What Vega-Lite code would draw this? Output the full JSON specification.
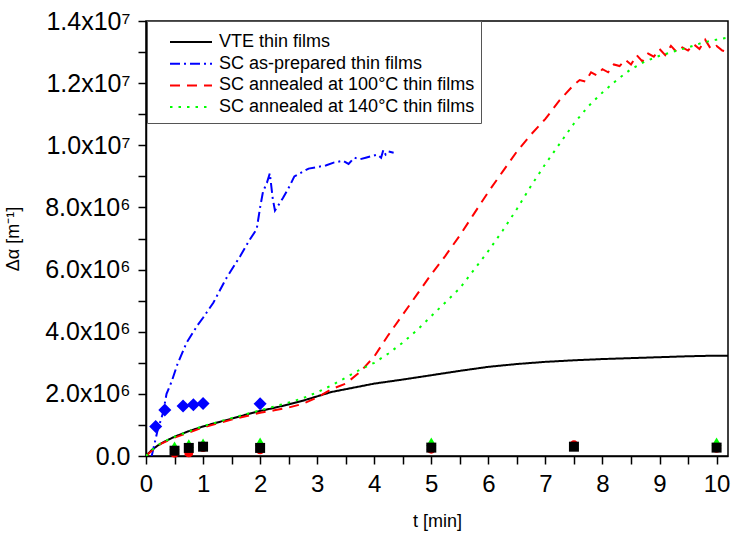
{
  "$schema": "https://vega.github.io/schema/vega-lite/v6.json",
  "width": 582,
  "height": 435,
  "autosize": {"type": "none"},
  "padding": {"left": 146, "top": 21, "right": 5, "bottom": 84},
  "background": "white",
  "config": {
    "font": "Liberation Sans",
    "view": {"stroke": "black", "strokeWidth": 1.5},
    "axis": {
      "grid": false, "domainColor": "black", "domainWidth": 1.5,
      "tickColor": "black", "tickWidth": 1.5, "tickSize": 8,
      "labelColor": "black", "labelFontSize": 24, "labelFont": "Liberation Sans",
      "titleColor": "black", "titleFontWeight": "normal", "titleFontSize": 18, "titleFont": "Liberation Sans",
      "labelFlush": false, "labelOverlap": false
    },
    "legend": {
      "orient": "none", "legendX": 1, "legendY": 0,
      "fillColor": "white", "strokeColor": "#555555",
      "padding": 6,
      "symbolType": "stroke", "symbolSize": 1764, "symbolStrokeWidth": 2,
      "symbolOffset": 16, "labelOffset": 6,
      "labelFontSize": 18, "labelColor": "black", "labelFont": "Liberation Sans", "labelLimit": 400,
      "clipHeight": 12, "rowPadding": 3.7,
      "titleFontSize": 4, "titlePadding": 5
    }
  },
  "datasets": {
    "curves": [
      {"t": 0, "v": 0, "series": "VTE thin films"},
      {"t": 0.05, "v": 100000, "series": "VTE thin films"},
      {"t": 0.1, "v": 190000, "series": "VTE thin films"},
      {"t": 0.2, "v": 330000, "series": "VTE thin films"},
      {"t": 0.3, "v": 440000, "series": "VTE thin films"},
      {"t": 0.5, "v": 620000, "series": "VTE thin films"},
      {"t": 0.75, "v": 800000, "series": "VTE thin films"},
      {"t": 1, "v": 950000, "series": "VTE thin films"},
      {"t": 1.25, "v": 1080000, "series": "VTE thin films"},
      {"t": 1.5, "v": 1200000, "series": "VTE thin films"},
      {"t": 1.75, "v": 1330000, "series": "VTE thin films"},
      {"t": 2, "v": 1450000, "series": "VTE thin films"},
      {"t": 2.25, "v": 1550000, "series": "VTE thin films"},
      {"t": 2.5, "v": 1660000, "series": "VTE thin films"},
      {"t": 2.75, "v": 1780000, "series": "VTE thin films"},
      {"t": 3, "v": 1920000, "series": "VTE thin films"},
      {"t": 3.25, "v": 2060000, "series": "VTE thin films"},
      {"t": 3.5, "v": 2150000, "series": "VTE thin films"},
      {"t": 3.75, "v": 2240000, "series": "VTE thin films"},
      {"t": 4, "v": 2330000, "series": "VTE thin films"},
      {"t": 4.5, "v": 2460000, "series": "VTE thin films"},
      {"t": 5, "v": 2600000, "series": "VTE thin films"},
      {"t": 5.5, "v": 2740000, "series": "VTE thin films"},
      {"t": 6, "v": 2870000, "series": "VTE thin films"},
      {"t": 6.5, "v": 2960000, "series": "VTE thin films"},
      {"t": 7, "v": 3030000, "series": "VTE thin films"},
      {"t": 7.5, "v": 3080000, "series": "VTE thin films"},
      {"t": 8, "v": 3120000, "series": "VTE thin films"},
      {"t": 8.5, "v": 3150000, "series": "VTE thin films"},
      {"t": 9, "v": 3180000, "series": "VTE thin films"},
      {"t": 9.5, "v": 3210000, "series": "VTE thin films"},
      {"t": 10, "v": 3230000, "series": "VTE thin films"},
      {"t": 10.2, "v": 3230000, "series": "VTE thin films"},

      {"t": 0.1, "v": 0, "series": "SC as-prepared thin films"},
      {"t": 0.15, "v": 400000, "series": "SC as-prepared thin films"},
      {"t": 0.2, "v": 800000, "series": "SC as-prepared thin films"},
      {"t": 0.3, "v": 1400000, "series": "SC as-prepared thin films"},
      {"t": 0.36, "v": 2000000, "series": "SC as-prepared thin films"},
      {"t": 0.45, "v": 2400000, "series": "SC as-prepared thin films"},
      {"t": 0.55, "v": 2950000, "series": "SC as-prepared thin films"},
      {"t": 0.71, "v": 3640000, "series": "SC as-prepared thin films"},
      {"t": 0.9, "v": 4200000, "series": "SC as-prepared thin films"},
      {"t": 1.0, "v": 4450000, "series": "SC as-prepared thin films"},
      {"t": 1.18, "v": 4930000, "series": "SC as-prepared thin films"},
      {"t": 1.4, "v": 5700000, "series": "SC as-prepared thin films"},
      {"t": 1.65, "v": 6430000, "series": "SC as-prepared thin films"},
      {"t": 1.75, "v": 6750000, "series": "SC as-prepared thin films"},
      {"t": 1.82, "v": 6970000, "series": "SC as-prepared thin films"},
      {"t": 1.94, "v": 7300000, "series": "SC as-prepared thin films"},
      {"t": 2.0, "v": 8000000, "series": "SC as-prepared thin films"},
      {"t": 2.05, "v": 8500000, "series": "SC as-prepared thin films"},
      {"t": 2.12, "v": 8800000, "series": "SC as-prepared thin films"},
      {"t": 2.17, "v": 9100000, "series": "SC as-prepared thin films"},
      {"t": 2.22, "v": 8300000, "series": "SC as-prepared thin films"},
      {"t": 2.26, "v": 7900000, "series": "SC as-prepared thin films"},
      {"t": 2.4, "v": 8300000, "series": "SC as-prepared thin films"},
      {"t": 2.52, "v": 8700000, "series": "SC as-prepared thin films"},
      {"t": 2.6, "v": 9000000, "series": "SC as-prepared thin films"},
      {"t": 2.7, "v": 9100000, "series": "SC as-prepared thin films"},
      {"t": 2.85, "v": 9250000, "series": "SC as-prepared thin films"},
      {"t": 3.0, "v": 9300000, "series": "SC as-prepared thin films"},
      {"t": 3.15, "v": 9350000, "series": "SC as-prepared thin films"},
      {"t": 3.3, "v": 9450000, "series": "SC as-prepared thin films"},
      {"t": 3.45, "v": 9500000, "series": "SC as-prepared thin films"},
      {"t": 3.55, "v": 9400000, "series": "SC as-prepared thin films"},
      {"t": 3.65, "v": 9600000, "series": "SC as-prepared thin films"},
      {"t": 3.75, "v": 9550000, "series": "SC as-prepared thin films"},
      {"t": 3.85, "v": 9600000, "series": "SC as-prepared thin films"},
      {"t": 3.95, "v": 9650000, "series": "SC as-prepared thin films"},
      {"t": 4.05, "v": 9700000, "series": "SC as-prepared thin films"},
      {"t": 4.12, "v": 9600000, "series": "SC as-prepared thin films"},
      {"t": 4.16, "v": 9850000, "series": "SC as-prepared thin films"},
      {"t": 4.2, "v": 9700000, "series": "SC as-prepared thin films"},
      {"t": 4.25, "v": 9800000, "series": "SC as-prepared thin films"},
      {"t": 4.34, "v": 9760000, "series": "SC as-prepared thin films"},

      {"t": 0, "v": 0, "series": "SC annealed at 100°C thin films"},
      {"t": 0.1, "v": 170000, "series": "SC annealed at 100°C thin films"},
      {"t": 0.25, "v": 380000, "series": "SC annealed at 100°C thin films"},
      {"t": 0.5, "v": 590000, "series": "SC annealed at 100°C thin films"},
      {"t": 1, "v": 920000, "series": "SC annealed at 100°C thin films"},
      {"t": 1.5, "v": 1170000, "series": "SC annealed at 100°C thin films"},
      {"t": 2, "v": 1390000, "series": "SC annealed at 100°C thin films"},
      {"t": 2.25, "v": 1470000, "series": "SC annealed at 100°C thin films"},
      {"t": 2.5, "v": 1560000, "series": "SC annealed at 100°C thin films"},
      {"t": 2.75, "v": 1680000, "series": "SC annealed at 100°C thin films"},
      {"t": 3, "v": 1880000, "series": "SC annealed at 100°C thin films"},
      {"t": 3.25, "v": 2150000, "series": "SC annealed at 100°C thin films"},
      {"t": 3.5, "v": 2330000, "series": "SC annealed at 100°C thin films"},
      {"t": 3.75, "v": 2700000, "series": "SC annealed at 100°C thin films"},
      {"t": 4, "v": 3200000, "series": "SC annealed at 100°C thin films"},
      {"t": 4.25, "v": 3900000, "series": "SC annealed at 100°C thin films"},
      {"t": 4.5, "v": 4550000, "series": "SC annealed at 100°C thin films"},
      {"t": 4.75, "v": 5200000, "series": "SC annealed at 100°C thin films"},
      {"t": 5, "v": 5850000, "series": "SC annealed at 100°C thin films"},
      {"t": 5.25, "v": 6450000, "series": "SC annealed at 100°C thin films"},
      {"t": 5.5, "v": 7100000, "series": "SC annealed at 100°C thin films"},
      {"t": 5.75, "v": 7800000, "series": "SC annealed at 100°C thin films"},
      {"t": 6, "v": 8500000, "series": "SC annealed at 100°C thin films"},
      {"t": 6.25, "v": 9150000, "series": "SC annealed at 100°C thin films"},
      {"t": 6.5, "v": 9800000, "series": "SC annealed at 100°C thin films"},
      {"t": 6.75, "v": 10350000, "series": "SC annealed at 100°C thin films"},
      {"t": 7, "v": 10850000, "series": "SC annealed at 100°C thin films"},
      {"t": 7.25, "v": 11450000, "series": "SC annealed at 100°C thin films"},
      {"t": 7.5, "v": 11950000, "series": "SC annealed at 100°C thin films"},
      {"t": 7.6, "v": 12100000, "series": "SC annealed at 100°C thin films"},
      {"t": 7.7, "v": 12050000, "series": "SC annealed at 100°C thin films"},
      {"t": 7.8, "v": 12350000, "series": "SC annealed at 100°C thin films"},
      {"t": 7.9, "v": 12250000, "series": "SC annealed at 100°C thin films"},
      {"t": 8.0, "v": 12450000, "series": "SC annealed at 100°C thin films"},
      {"t": 8.1, "v": 12350000, "series": "SC annealed at 100°C thin films"},
      {"t": 8.2, "v": 12600000, "series": "SC annealed at 100°C thin films"},
      {"t": 8.3, "v": 12550000, "series": "SC annealed at 100°C thin films"},
      {"t": 8.4, "v": 12750000, "series": "SC annealed at 100°C thin films"},
      {"t": 8.5, "v": 12600000, "series": "SC annealed at 100°C thin films"},
      {"t": 8.6, "v": 12900000, "series": "SC annealed at 100°C thin films"},
      {"t": 8.7, "v": 12700000, "series": "SC annealed at 100°C thin films"},
      {"t": 8.8, "v": 12950000, "series": "SC annealed at 100°C thin films"},
      {"t": 8.9, "v": 12850000, "series": "SC annealed at 100°C thin films"},
      {"t": 9.0, "v": 13100000, "series": "SC annealed at 100°C thin films"},
      {"t": 9.1, "v": 12900000, "series": "SC annealed at 100°C thin films"},
      {"t": 9.2, "v": 13200000, "series": "SC annealed at 100°C thin films"},
      {"t": 9.3, "v": 13000000, "series": "SC annealed at 100°C thin films"},
      {"t": 9.4, "v": 13150000, "series": "SC annealed at 100°C thin films"},
      {"t": 9.5, "v": 13050000, "series": "SC annealed at 100°C thin films"},
      {"t": 9.6, "v": 13250000, "series": "SC annealed at 100°C thin films"},
      {"t": 9.7, "v": 13100000, "series": "SC annealed at 100°C thin films"},
      {"t": 9.8, "v": 13400000, "series": "SC annealed at 100°C thin films"},
      {"t": 9.9, "v": 13100000, "series": "SC annealed at 100°C thin films"},
      {"t": 10.0, "v": 13200000, "series": "SC annealed at 100°C thin films"},
      {"t": 10.1, "v": 13050000, "series": "SC annealed at 100°C thin films"},
      {"t": 10.2, "v": 13000000, "series": "SC annealed at 100°C thin films"},

      {"t": 0, "v": 0, "series": "SC annealed at 140°C thin films"},
      {"t": 0.1, "v": 190000, "series": "SC annealed at 140°C thin films"},
      {"t": 0.25, "v": 400000, "series": "SC annealed at 140°C thin films"},
      {"t": 0.5, "v": 620000, "series": "SC annealed at 140°C thin films"},
      {"t": 1, "v": 960000, "series": "SC annealed at 140°C thin films"},
      {"t": 1.5, "v": 1220000, "series": "SC annealed at 140°C thin films"},
      {"t": 2, "v": 1470000, "series": "SC annealed at 140°C thin films"},
      {"t": 2.5, "v": 1720000, "series": "SC annealed at 140°C thin films"},
      {"t": 2.75, "v": 1860000, "series": "SC annealed at 140°C thin films"},
      {"t": 3, "v": 2050000, "series": "SC annealed at 140°C thin films"},
      {"t": 3.25, "v": 2270000, "series": "SC annealed at 140°C thin films"},
      {"t": 3.5, "v": 2520000, "series": "SC annealed at 140°C thin films"},
      {"t": 3.75, "v": 2780000, "series": "SC annealed at 140°C thin films"},
      {"t": 4, "v": 3000000, "series": "SC annealed at 140°C thin films"},
      {"t": 4.25, "v": 3300000, "series": "SC annealed at 140°C thin films"},
      {"t": 4.5, "v": 3650000, "series": "SC annealed at 140°C thin films"},
      {"t": 4.75, "v": 4050000, "series": "SC annealed at 140°C thin films"},
      {"t": 5, "v": 4500000, "series": "SC annealed at 140°C thin films"},
      {"t": 5.25, "v": 4950000, "series": "SC annealed at 140°C thin films"},
      {"t": 5.5, "v": 5400000, "series": "SC annealed at 140°C thin films"},
      {"t": 5.75, "v": 6000000, "series": "SC annealed at 140°C thin films"},
      {"t": 6, "v": 6600000, "series": "SC annealed at 140°C thin films"},
      {"t": 6.25, "v": 7250000, "series": "SC annealed at 140°C thin films"},
      {"t": 6.5, "v": 7950000, "series": "SC annealed at 140°C thin films"},
      {"t": 6.75, "v": 8700000, "series": "SC annealed at 140°C thin films"},
      {"t": 7, "v": 9400000, "series": "SC annealed at 140°C thin films"},
      {"t": 7.25, "v": 10050000, "series": "SC annealed at 140°C thin films"},
      {"t": 7.5, "v": 10700000, "series": "SC annealed at 140°C thin films"},
      {"t": 7.75, "v": 11250000, "series": "SC annealed at 140°C thin films"},
      {"t": 8, "v": 11700000, "series": "SC annealed at 140°C thin films"},
      {"t": 8.25, "v": 12100000, "series": "SC annealed at 140°C thin films"},
      {"t": 8.5, "v": 12450000, "series": "SC annealed at 140°C thin films"},
      {"t": 8.75, "v": 12700000, "series": "SC annealed at 140°C thin films"},
      {"t": 9, "v": 12880000, "series": "SC annealed at 140°C thin films"},
      {"t": 9.25, "v": 13020000, "series": "SC annealed at 140°C thin films"},
      {"t": 9.5, "v": 13150000, "series": "SC annealed at 140°C thin films"},
      {"t": 9.75, "v": 13300000, "series": "SC annealed at 140°C thin films"},
      {"t": 10, "v": 13400000, "series": "SC annealed at 140°C thin films"},
      {"t": 10.2, "v": 13470000, "series": "SC annealed at 140°C thin films"}
    ],
    "points": [
      {"t": 0.17, "v": 950000, "set": "as-prepared"},
      {"t": 0.33, "v": 1480000, "set": "as-prepared"},
      {"t": 0.65, "v": 1610000, "set": "as-prepared"},
      {"t": 0.83, "v": 1650000, "set": "as-prepared"},
      {"t": 1.0, "v": 1690000, "set": "as-prepared"},
      {"t": 2.0, "v": 1680000, "set": "as-prepared"},
      {"t": 0.5, "v": 330000, "set": "140"},
      {"t": 0.75, "v": 400000, "set": "140"},
      {"t": 1.0, "v": 420000, "set": "140"},
      {"t": 2.0, "v": 460000, "set": "140"},
      {"t": 5.0, "v": 460000, "set": "140"},
      {"t": 7.5, "v": 360000, "set": "140"},
      {"t": 10.0, "v": 460000, "set": "140"},
      {"t": 0.5, "v": 90000, "set": "100"},
      {"t": 0.75, "v": 100000, "set": "100"},
      {"t": 1.0, "v": 270000, "set": "100"},
      {"t": 2.0, "v": 200000, "set": "100"},
      {"t": 5.0, "v": 220000, "set": "100"},
      {"t": 7.5, "v": 360000, "set": "100"},
      {"t": 10.0, "v": 250000, "set": "100"},
      {"t": 0.5, "v": 170000, "set": "VTE"},
      {"t": 0.75, "v": 260000, "set": "VTE"},
      {"t": 1.0, "v": 300000, "set": "VTE"},
      {"t": 2.0, "v": 260000, "set": "VTE"},
      {"t": 5.0, "v": 270000, "set": "VTE"},
      {"t": 7.5, "v": 300000, "set": "VTE"},
      {"t": 10.0, "v": 270000, "set": "VTE"}
    ]
  },
  "encoding": {
    "x": {
      "field": "t", "type": "quantitative",
      "scale": {"domain": [0, 10.2], "nice": false, "zero": false},
      "axis": {
        "title": "t [min]",
        "values": [0, 0.5, 1, 1.5, 2, 2.5, 3, 3.5, 4, 4.5, 5, 5.5, 6, 6.5, 7, 7.5, 8, 8.5, 9, 9.5, 10],
        "labelExpr": "datum.value % 1 == 0 ? format(datum.value, 'd') : ''",
        "labelPadding": 8,
        "titlePadding": 16
      }
    },
    "y": {
      "field": "v", "type": "quantitative",
      "scale": {"domain": [0, 14000000], "nice": false},
      "axis": {
        "title": "Δα [m⁻¹]",
        "values": [0, 1000000, 2000000, 3000000, 4000000, 5000000, 6000000, 7000000, 8000000, 9000000, 10000000, 11000000, 12000000, 13000000, 14000000],
        "labelExpr": "datum.value % 2000000 != 0 ? '' : datum.value == 0 ? '0.0' : datum.value < 10000000 ? format(datum.value / 1000000, '.1f') + 'x10⁶' : format(datum.value / 10000000, '.1f') + 'x10⁷'",
        "labelPadding": 8,
        "labelFontSize": 25,
        "titlePadding": 22
      }
    }
  },
  "layer": [
    {
      "data": {"name": "curves"},
      "mark": {"type": "line", "strokeWidth": 2, "clip": true},
      "encoding": {
        "color": {
          "field": "series", "type": "nominal", "title": " ",
          "scale": {
            "domain": ["VTE thin films", "SC as-prepared thin films", "SC annealed at 100°C thin films", "SC annealed at 140°C thin films"],
            "range": ["#000000", "#0000FF", "#FF0000", "#00FF00"]
          }
        },
        "strokeDash": {
          "field": "series", "type": "nominal", "title": " ",
          "scale": {
            "domain": ["VTE thin films", "SC as-prepared thin films", "SC annealed at 100°C thin films", "SC annealed at 140°C thin films"],
            "range": [[1, 0], [10, 4, 2, 4], [10, 7], [2.5, 6]]
          }
        }
      }
    },
    {
      "data": {"name": "points"},
      "transform": [{"filter": "datum.set == 'as-prepared'"}],
      "mark": {"type": "point", "shape": "diamond", "filled": true, "color": "#0000FF", "size": 170, "opacity": 1}
    },
    {
      "data": {"name": "points"},
      "transform": [{"filter": "datum.set == '140'"}],
      "mark": {"type": "point", "shape": "triangle-up", "filled": true, "color": "#00FF00", "size": 100, "opacity": 1}
    },
    {
      "data": {"name": "points"},
      "transform": [{"filter": "datum.set == '100'"}],
      "mark": {"type": "point", "shape": "circle", "filled": true, "color": "#FF0000", "size": 80, "opacity": 1}
    },
    {
      "data": {"name": "points"},
      "transform": [{"filter": "datum.set == 'VTE'"}],
      "mark": {"type": "point", "shape": "square", "filled": true, "color": "#000000", "size": 100, "opacity": 1}
    }
  ]
}
